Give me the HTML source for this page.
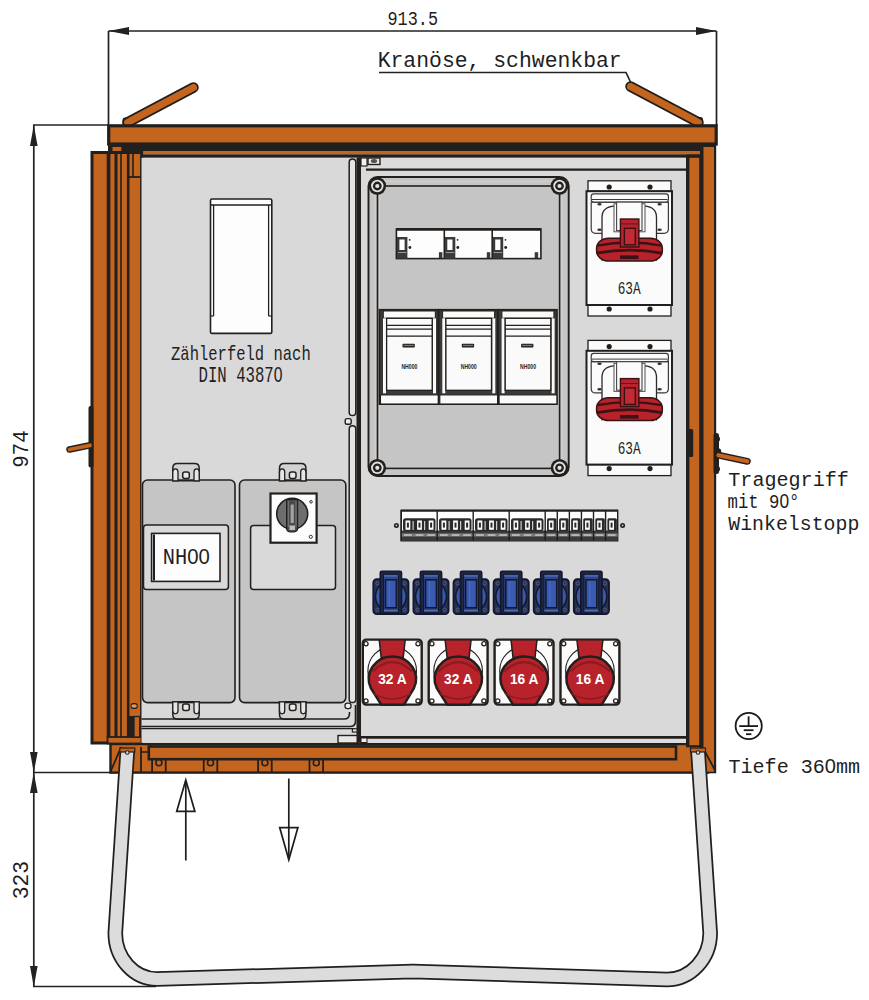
<!DOCTYPE html>
<html><head><meta charset="utf-8"><title>Verteilerschrank</title>
<style>
html,body{margin:0;padding:0;background:#fff;width:869px;height:1000px;overflow:hidden}
svg{display:block}
text{font-family:"Liberation Sans",sans-serif;fill:#1e1e1e}
text[font-family="Liberation Mono"]{font-family:"Liberation Mono",monospace}
tspan[font-family="Liberation Sans"]{font-family:"Liberation Sans",sans-serif}
</style></head><body>
<svg width="869" height="1000" viewBox="0 0 869 1000">
<rect x="0" y="0" width="869" height="1000" fill="#fff"/>
<defs>
<g id="bscrew"><circle r="8.8" fill="#231f1c"/><circle r="6.2" fill="#e2e2e2"/><circle r="4.4" fill="#231f1c"/><circle r="2.1" fill="#e2e2e2"/></g>
<g id="nh"><rect x="0" y="0" width="59" height="94.5" fill="#3a3a3a" stroke="#231f1c" stroke-width="1.6"/><rect x="3.9" y="1.3" width="52" height="7.2" fill="#fafafa" stroke="#231f1c" stroke-width="1"/><rect x="3.6" y="8.6" width="3" height="75" fill="#fafafa"/><rect x="53.6" y="8.6" width="3" height="75" fill="#fafafa"/><rect x="7.2" y="8.6" width="45.6" height="72" fill="#fafafa" stroke="#231f1c" stroke-width="1.3"/><line x1="7.2" y1="15.6" x2="52.8" y2="15.6" stroke="#231f1c" stroke-width="1.2"/><line x1="7.2" y1="19.5" x2="52.8" y2="19.5" stroke="#231f1c" stroke-width="1.2"/><line x1="7.2" y1="26.4" x2="52.8" y2="26.4" stroke="#231f1c" stroke-width="1.2"/><rect x="23.1" y="34.1" width="12.3" height="3.7" fill="#231f1c" rx="0.8"/><rect x="24.2" y="35.1" width="10.1" height="1.3" fill="#777"/><text x="30" y="59" font-size="7.2" font-weight="bold" text-anchor="middle" textLength="16" lengthAdjust="spacingAndGlyphs">NH000</text><rect x="1.1" y="85.2" width="57.8" height="9.1" fill="#fafafa" stroke="#231f1c" stroke-width="1.1"/></g>
<g id="s63"><rect x="1.5" y="0" width="83" height="10.4" fill="#fbfbfb" stroke="#231f1c" stroke-width="1.3"/><rect x="1.5" y="124.2" width="83" height="11" fill="#fbfbfb" stroke="#231f1c" stroke-width="1.3"/><rect x="0" y="10.4" width="85.5" height="113.8" fill="#fbfbfb" stroke="#231f1c" stroke-width="2"/><circle cx="22.7" cy="6.2" r="2.6" fill="#231f1c"/><circle cx="63.5" cy="6.2" r="2.6" fill="#231f1c"/><circle cx="22.7" cy="128.2" r="2.6" fill="#231f1c"/><circle cx="63.5" cy="128.2" r="2.6" fill="#231f1c"/><path d="M4.7 21.3 V48 Q4.7 52.5 9.2 52.5 H77.4 Q81.9 52.5 81.9 48 V21.3 Z" fill="#fbfbfb" stroke="#3a3a3a" stroke-width="1.2"/><rect x="4.7" y="13" width="77.2" height="8.3" rx="2.5" fill="#fbfbfb" stroke="#3a3a3a" stroke-width="1.2"/><line x1="5.5" y1="18.7" x2="81" y2="18.7" stroke="#3a3a3a" stroke-width="1"/><ellipse cx="13" cy="23.4" rx="2.2" ry="1.3" fill="#333"/><ellipse cx="73.1" cy="23.4" rx="2.2" ry="1.3" fill="#333"/><ellipse cx="13" cy="48.9" rx="2.2" ry="1.3" fill="#333"/><ellipse cx="73.1" cy="48.9" rx="2.2" ry="1.3" fill="#333"/><path d="M15.5 80 V37 Q15.5 26 28 25.4 H58 Q70 26 70 37 V80" fill="#fbfbfb" stroke="#2a2a2a" stroke-width="1.3"/><rect x="27.5" y="23" width="31" height="28" fill="#fbfbfb" stroke="#555" stroke-width="1"/><rect x="30.1" y="21.3" width="25.4" height="28.5" fill="#fbfbfb" stroke="#444" stroke-width="1.1"/><rect x="10.1" y="57.4" width="65.7" height="22.8" rx="12" ry="10" fill="#b8232b" stroke="#3a1214" stroke-width="1.5"/><path d="M11 64.8 Q42.9 58.6 75 64.8" fill="none" stroke="#3b1215" stroke-width="2.3"/><path d="M10.4 72.3 Q42.9 66.3 75.5 72.3" fill="none" stroke="#3b1215" stroke-width="2.8"/><rect x="33.5" y="74.6" width="18.5" height="3.6" fill="#3b1215"/><rect x="33.9" y="38.2" width="18.5" height="28" fill="#b8232b" stroke="#3a1214" stroke-width="1.4"/><line x1="33.9" y1="43.1" x2="52.4" y2="43.1" stroke="#5a1a1e" stroke-width="1"/><rect x="37.9" y="47.5" width="10.9" height="16.5" fill="#c42a36" stroke="#3a1214" stroke-width="1.4"/><text x="42.7" y="113.7" font-family="Liberation Mono" font-size="18" text-anchor="middle" textLength="23" lengthAdjust="spacingAndGlyphs">63A</text></g>
<g id="bsock"><rect x="-17.6" y="0" width="35.2" height="34.9" rx="3.5" fill="#243058" stroke="#12172a" stroke-width="1.8"/><circle cx="0" cy="17.4" r="15.4" fill="#3a57aa" stroke="#12172a" stroke-width="1.5"/><circle cx="-13.5" cy="4.2" r="1.6" fill="none" stroke="#56607e" stroke-width="0.9"/><circle cx="13.5" cy="4.2" r="1.6" fill="none" stroke="#56607e" stroke-width="0.9"/><circle cx="-13.5" cy="30.5" r="1.6" fill="none" stroke="#56607e" stroke-width="0.9"/><circle cx="13.5" cy="30.5" r="1.6" fill="none" stroke="#56607e" stroke-width="0.9"/><rect x="-10.6" y="-8" width="21.2" height="42.6" rx="1.5" fill="#1f2746" stroke="#12172a" stroke-width="1.6"/><rect x="-7.4" y="-5" width="14.8" height="38" fill="#2f4890" stroke="#12172a" stroke-width="1"/><line x1="-7" y1="-3.3" x2="7" y2="-3.3" stroke="#5a74b8" stroke-width="1.2"/><line x1="-7" y1="31.6" x2="7" y2="31.6" stroke="#5a74b8" stroke-width="1.2"/><rect x="-5.4" y="0.6" width="10.8" height="28" fill="#3a5ab2" stroke="#12172a" stroke-width="1.5"/><line x1="-1.5" y1="2" x2="-1.5" y2="27" stroke="#4a6ac0" stroke-width="1.2"/></g>
<g id="cee"><rect x="1.2" y="1.2" width="58.9" height="65" rx="3.5" fill="#fbfbfb" stroke="#231f1c" stroke-width="2.4"/><circle cx="4.4" cy="5.3" r="2.1" fill="#fff" stroke="#231f1c" stroke-width="1.3"/><circle cx="56.4" cy="5.3" r="2.1" fill="#fff" stroke="#231f1c" stroke-width="1.3"/><circle cx="4.4" cy="62.5" r="2.1" fill="#fff" stroke="#231f1c" stroke-width="1.3"/><circle cx="56.4" cy="62.5" r="2.1" fill="#fff" stroke="#231f1c" stroke-width="1.3"/><circle cx="30.6" cy="32.5" r="24.3" fill="none" stroke="#231f1c" stroke-width="1.1"/><path d="M17.6 1.4 H43.6 L41.6 19 H19.6 Z" fill="#b8232b" stroke="#231f1c" stroke-width="1.5"/><path d="M19.8 66.4 L9.4 50 A23.6 22.5 0 1 1 52.2 50 L42.3 66.4 Z" fill="#b8232b" stroke="#231f1c" stroke-width="2.5" stroke-linejoin="round"/><path d="M11 33 Q30.8 14.5 50.6 33" fill="none" stroke="#8c1b20" stroke-width="2.2"/><path d="M11.5 55 Q30.8 66 50 55" fill="none" stroke="#8c1b20" stroke-width="1.5"/></g>
</defs>
<g stroke="#222" stroke-width="1.7" fill="none">
<line x1="108.5" y1="31" x2="716.5" y2="31" stroke="#222" stroke-width="1.7" />
<line x1="108.5" y1="31" x2="108.5" y2="126" stroke="#222" stroke-width="1.7" />
<line x1="716.5" y1="31" x2="716.5" y2="126" stroke="#222" stroke-width="1.7" />
<line x1="33.8" y1="125" x2="33.8" y2="987" stroke="#222" stroke-width="1.7" />
<line x1="33" y1="125" x2="109" y2="125" stroke="#222" stroke-width="1.7" />
<line x1="33" y1="772.5" x2="116" y2="772.5" stroke="#222" stroke-width="1.7" />
<line x1="33" y1="986.5" x2="156" y2="986.5" stroke="#222" stroke-width="1.7" />
</g>
<g fill="#222">
<polygon points="108.5,31 129,27 129,35"/>
<polygon points="716.5,31 696,27 696,35"/>
<polygon points="33.8,125 30,146 37.6,146"/>
<polygon points="33.8,772.5 30,752 37.6,752"/>
<polygon points="33.8,772.5 30,793 37.6,793"/>
<polygon points="33.8,987 30,966 37.6,966"/>
</g>
<text font-family="Liberation Mono" x="387.5" y="25" font-size="20.5" textLength="50.5" lengthAdjust="spacingAndGlyphs">913.5</text>
<text font-family="Liberation Mono" x="377.7" y="67.3" font-size="21.5" textLength="244" lengthAdjust="spacingAndGlyphs">Kranöse, schwenkbar</text>
<polyline points="379,72.5 626,72.5 631,83" fill="none" stroke="#222" stroke-width="1.7"/>
<text font-family="Liberation Mono" transform="translate(27.8,467.8) rotate(-90)" font-size="22" textLength="37.5" lengthAdjust="spacingAndGlyphs">974</text>
<text font-family="Liberation Mono" transform="translate(28.4,899.3) rotate(-90)" font-size="22.5" textLength="38.5" lengthAdjust="spacingAndGlyphs">323</text>
<g stroke-linecap="round">
<line x1="127.5" y1="122.5" x2="193.5" y2="87.5" stroke="#231f1c" stroke-width="10.5" />
<line x1="127.5" y1="122.5" x2="193.5" y2="87.5" stroke="#c4651f" stroke-width="6.8" />
<line x1="630.5" y1="86.5" x2="698.5" y2="122.5" stroke="#231f1c" stroke-width="10.5" />
<line x1="630.5" y1="86.5" x2="698.5" y2="122.5" stroke="#c4651f" stroke-width="6.8" />
</g>
<rect x="122.5" y="117.5" width="7" height="8" rx="2.5" fill="#231f1c"/>
<rect x="696" y="117" width="7" height="9" rx="2.5" fill="#231f1c"/>
<line x1="127.5" y1="122.5" x2="193.5" y2="87.5" stroke="#c4651f" stroke-width="6.8" stroke-linecap="round"/>
<line x1="630.5" y1="86.5" x2="698.5" y2="122.5" stroke="#c4651f" stroke-width="6.8" stroke-linecap="round"/>
<rect x="108.7" y="125.8" width="607.5" height="18.2" fill="#c4651f" stroke="#231f1c" stroke-width="3.2" />
<rect x="108" y="144" width="595" height="7" fill="#231f1c" />
<rect x="112.5" y="147" width="8.8" height="5" fill="#c4651f" />
<rect x="142" y="151" width="558" height="3.3" fill="#c4651f" />
<rect x="142" y="154.3" width="544.5" height="3.5" fill="#231f1c" />
<rect x="110.5" y="744" width="597.5" height="28.6" fill="#c4651f" stroke="#231f1c" stroke-width="2.4" />
<rect x="148.8" y="746.5" width="527.2" height="12.7" fill="#c4651f" stroke="#231f1c" stroke-width="2.6" />
<rect x="686" y="144" width="30" height="603.3" fill="#231f1c" />
<rect x="699.5" y="144" width="16.7" height="629.3" fill="#231f1c" />
<rect x="689.4" y="157.8" width="9.8" height="587.4" fill="#c4651f" />
<rect x="703.5" y="147" width="10.5" height="624.7" fill="#c4651f" />
<rect x="686" y="151" width="14" height="3.3" fill="#c4651f" />
<line x1="141" y1="747" x2="141" y2="772" stroke="#231f1c" stroke-width="1.8" />
<line x1="141" y1="752" x2="148.8" y2="752" stroke="#231f1c" stroke-width="1.5" />
<line x1="152.1" y1="759" x2="152.1" y2="772" stroke="#231f1c" stroke-width="1.8" />
<line x1="165.70000000000002" y1="759" x2="165.70000000000002" y2="772" stroke="#231f1c" stroke-width="1.8" />
<circle cx="158.9" cy="762.8" r="3" fill="#c4651f" stroke="#231f1c" stroke-width="1.6"/>
<line x1="203.7" y1="759" x2="203.7" y2="772" stroke="#231f1c" stroke-width="1.8" />
<line x1="217.3" y1="759" x2="217.3" y2="772" stroke="#231f1c" stroke-width="1.8" />
<circle cx="210.5" cy="762.8" r="3" fill="#c4651f" stroke="#231f1c" stroke-width="1.6"/>
<line x1="258.09999999999997" y1="759" x2="258.09999999999997" y2="772" stroke="#231f1c" stroke-width="1.8" />
<line x1="271.7" y1="759" x2="271.7" y2="772" stroke="#231f1c" stroke-width="1.8" />
<circle cx="264.9" cy="762.8" r="3" fill="#c4651f" stroke="#231f1c" stroke-width="1.6"/>
<line x1="309.5" y1="759" x2="309.5" y2="772" stroke="#231f1c" stroke-width="1.8" />
<line x1="323.1" y1="759" x2="323.1" y2="772" stroke="#231f1c" stroke-width="1.8" />
<circle cx="316.3" cy="762.8" r="3" fill="#c4651f" stroke="#231f1c" stroke-width="1.6"/>
<line x1="110.6" y1="771.5" x2="121.2" y2="747" stroke="#231f1c" stroke-width="1.8" />
<line x1="703.2" y1="748.3" x2="714.6" y2="769.5" stroke="#231f1c" stroke-width="1.8" />
<path d="M127.3 751 L115.3 933 C115.3 958.4 134 979 157 979 L413 971.5 L667 979.5 C690.8 979.5 710.2 958.4 710.2 933 L698 751" fill="none" stroke="#231f1c" stroke-width="15.5" stroke-linejoin="round"/>
<path d="M127.3 751 L115.3 933 C115.3 958.4 134 979 157 979 L413 971.5 L667 979.5 C690.8 979.5 710.2 958.4 710.2 933 L698 751" fill="none" stroke="#dcdcdc" stroke-width="12" stroke-linejoin="round"/>
<rect x="119.8" y="748" width="15" height="4" fill="#c4651f" stroke="#231f1c" stroke-width="1.2"/>
<circle cx="127.3" cy="752.5" r="1.8" fill="#ddd" stroke="#231f1c" stroke-width="1.1"/>
<rect x="690.5" y="748" width="15" height="4" fill="#c4651f" stroke="#231f1c" stroke-width="1.2"/>
<circle cx="698" cy="752.5" r="1.8" fill="#ddd" stroke="#231f1c" stroke-width="1.1"/>
<rect x="92" y="152.5" width="49.6" height="590.5" fill="#c4651f" stroke="#231f1c" stroke-width="3" />
<line x1="108.55" y1="153" x2="108.55" y2="737.5" stroke="#231f1c" stroke-width="3.7" />
<line x1="116" y1="153" x2="116" y2="737.5" stroke="#231f1c" stroke-width="3" />
<line x1="121" y1="153" x2="121" y2="737.5" stroke="#231f1c" stroke-width="1.6" />
<line x1="128.2" y1="153" x2="128.2" y2="737.5" stroke="#231f1c" stroke-width="2.6" />
<line x1="133" y1="153" x2="133" y2="177" stroke="#231f1c" stroke-width="1.6" />
<line x1="128" y1="177" x2="141" y2="177" stroke="#231f1c" stroke-width="1.8" />
<rect x="107.5" y="737" width="34.0" height="6.5" fill="#c4651f" stroke="#231f1c" stroke-width="1.8" />
<rect x="128.6" y="716" width="5.4" height="21" fill="#231f1c" />
<rect x="134" y="716.5" width="5.7" height="20.5" fill="#c4651f" stroke="#231f1c" stroke-width="1.3" />
<rect x="131.1" y="703.5" width="6" height="5" rx="2.2" fill="#c4651f" stroke="#231f1c" stroke-width="1.2"/>
<line x1="131.5" y1="706" x2="136.7" y2="706" stroke="#eee" stroke-width="0.8" />
<rect x="88.5" y="406" width="5" height="61.5" rx="2" fill="#231f1c"/>
<g stroke-linecap="round">
<line x1="69.5" y1="449.5" x2="90" y2="445.3" stroke="#231f1c" stroke-width="6.5" />
<line x1="69.5" y1="449.5" x2="90" y2="445.3" stroke="#c4651f" stroke-width="3.8" />
</g>
<rect x="713.5" y="433" width="5.5" height="41" rx="2.5" fill="#231f1c"/>
<circle cx="717" cy="439" r="3" fill="#231f1c"/>
<circle cx="718" cy="451.5" r="3.2" fill="#231f1c"/>
<circle cx="717" cy="469" r="3" fill="#231f1c"/>
<g stroke-linecap="round">
<line x1="718.5" y1="455.2" x2="747.3" y2="461.3" stroke="#231f1c" stroke-width="7" />
<line x1="718.5" y1="455.2" x2="747.3" y2="461.3" stroke="#c4651f" stroke-width="4.2" />
</g>
<rect x="684.8" y="413" width="3" height="49" rx="1.5" fill="#231f1c"/>
<rect x="686" y="429" width="7.2" height="28" rx="1.5" fill="#231f1c"/>
<rect x="141.5" y="157.8" width="215.5" height="585.0" fill="#d9d9d9" />
<rect x="210.5" y="199" width="61.3" height="134.4" fill="#fdfdfd" stroke="#231f1c" stroke-width="1.6" rx="1.5" />
<line x1="210.5" y1="205" x2="271.8" y2="205" stroke="#231f1c" stroke-width="1.3" />
<line x1="213.6" y1="205" x2="213.6" y2="316" stroke="#231f1c" stroke-width="1.3" />
<line x1="268.6" y1="205" x2="268.6" y2="316" stroke="#231f1c" stroke-width="1.3" />
<line x1="210.5" y1="316" x2="213.6" y2="316" stroke="#231f1c" stroke-width="1.2" />
<line x1="268.6" y1="316" x2="271.8" y2="316" stroke="#231f1c" stroke-width="1.2" />
<text font-family="Liberation Mono" x="171" y="359.5" font-size="21" textLength="139.7" lengthAdjust="spacingAndGlyphs">Zählerfeld nach</text>
<text font-family="Liberation Mono" x="198.5" y="381.8" font-size="22" textLength="84" lengthAdjust="spacingAndGlyphs">DIN 4387<tspan font-family='Liberation Sans'>0</tspan></text>
<rect x="142.5" y="480" width="92.5" height="222.6" fill="#c5c5c5" stroke="#231f1c" stroke-width="1.6" rx="5" />
<rect x="239.5" y="480" width="106.3" height="222.6" fill="#c5c5c5" stroke="#231f1c" stroke-width="1.6" rx="5" />
<g transform="translate(186,480) scale(1,1)"><path d="M-13.2 0.8 V-12 Q-13.2 -16.6 -8.6 -16.6 H8.6 Q13.2 -16.6 13.2 -12 V0.8 Z" fill="#d2d2d2" stroke="#231f1c" stroke-width="1.5"/><path d="M-13.2 0.8 V-8 Q-13.2 -11.2 -10.6 -11.2 Q-8 -11.2 -8 -8 V0.8 Z" fill="#e6e6e6" stroke="#231f1c" stroke-width="1.3"/><path d="M13.2 0.8 V-8 Q13.2 -11.2 10.6 -11.2 Q8 -11.2 8 -8 V0.8 Z" fill="#e6e6e6" stroke="#231f1c" stroke-width="1.3"/><line x1="-8" y1="0" x2="8" y2="0" stroke="#231f1c" stroke-width="1.4"/><rect x="-3.3" y="-8" width="6.6" height="6.6" rx="2" fill="#e8e8e8" stroke="#231f1c" stroke-width="1.5"/></g>
<g transform="translate(186,702.6) scale(1,-1)"><path d="M-13.2 0.8 V-12 Q-13.2 -16.6 -8.6 -16.6 H8.6 Q13.2 -16.6 13.2 -12 V0.8 Z" fill="#d2d2d2" stroke="#231f1c" stroke-width="1.5"/><path d="M-13.2 0.8 V-8 Q-13.2 -11.2 -10.6 -11.2 Q-8 -11.2 -8 -8 V0.8 Z" fill="#e6e6e6" stroke="#231f1c" stroke-width="1.3"/><path d="M13.2 0.8 V-8 Q13.2 -11.2 10.6 -11.2 Q8 -11.2 8 -8 V0.8 Z" fill="#e6e6e6" stroke="#231f1c" stroke-width="1.3"/><line x1="-8" y1="0" x2="8" y2="0" stroke="#231f1c" stroke-width="1.4"/><rect x="-3.3" y="-8" width="6.6" height="6.6" rx="2" fill="#e8e8e8" stroke="#231f1c" stroke-width="1.5"/></g>
<g transform="translate(292.7,480) scale(1,1)"><path d="M-13.2 0.8 V-12 Q-13.2 -16.6 -8.6 -16.6 H8.6 Q13.2 -16.6 13.2 -12 V0.8 Z" fill="#d2d2d2" stroke="#231f1c" stroke-width="1.5"/><path d="M-13.2 0.8 V-8 Q-13.2 -11.2 -10.6 -11.2 Q-8 -11.2 -8 -8 V0.8 Z" fill="#e6e6e6" stroke="#231f1c" stroke-width="1.3"/><path d="M13.2 0.8 V-8 Q13.2 -11.2 10.6 -11.2 Q8 -11.2 8 -8 V0.8 Z" fill="#e6e6e6" stroke="#231f1c" stroke-width="1.3"/><line x1="-8" y1="0" x2="8" y2="0" stroke="#231f1c" stroke-width="1.4"/><rect x="-3.3" y="-8" width="6.6" height="6.6" rx="2" fill="#e8e8e8" stroke="#231f1c" stroke-width="1.5"/></g>
<g transform="translate(292.7,702.6) scale(1,-1)"><path d="M-13.2 0.8 V-12 Q-13.2 -16.6 -8.6 -16.6 H8.6 Q13.2 -16.6 13.2 -12 V0.8 Z" fill="#d2d2d2" stroke="#231f1c" stroke-width="1.5"/><path d="M-13.2 0.8 V-8 Q-13.2 -11.2 -10.6 -11.2 Q-8 -11.2 -8 -8 V0.8 Z" fill="#e6e6e6" stroke="#231f1c" stroke-width="1.3"/><path d="M13.2 0.8 V-8 Q13.2 -11.2 10.6 -11.2 Q8 -11.2 8 -8 V0.8 Z" fill="#e6e6e6" stroke="#231f1c" stroke-width="1.3"/><line x1="-8" y1="0" x2="8" y2="0" stroke="#231f1c" stroke-width="1.4"/><rect x="-3.3" y="-8" width="6.6" height="6.6" rx="2" fill="#e8e8e8" stroke="#231f1c" stroke-width="1.5"/></g>
<rect x="143.5" y="525" width="84.9" height="64.5" fill="#d9d9d9" stroke="#231f1c" stroke-width="1.5" rx="3" />
<rect x="151.6" y="533.4" width="68.4" height="48.0" fill="#fdfdfd" stroke="#231f1c" stroke-width="1.6" />
<line x1="154" y1="534.5" x2="154" y2="580.5" stroke="#231f1c" stroke-width="2" />
<text font-family="Liberation Mono" x="186.3" y="563.6" font-size="22.5" textLength="47" lengthAdjust="spacingAndGlyphs" text-anchor="middle">NH<tspan font-family='Liberation Sans'>0</tspan><tspan font-family='Liberation Sans'>0</tspan></text>
<rect x="250.6" y="525.5" width="84.9" height="64.0" fill="#d9d9d9" stroke="#231f1c" stroke-width="1.5" rx="3" />
<rect x="270.5" y="493.5" width="46.1" height="49.2" fill="#fdfdfd" stroke="#231f1c" stroke-width="2.2" />
<circle cx="292.2" cy="513.8" r="15.5" fill="#6e6e6e" stroke="#231f1c" stroke-width="1.6"/>
<path d="M286.6 499.5 H297.6 V528 Q297.6 531.8 294 531.8 H290 Q286.6 531.8 286.6 528 Z" fill="#4a4a4a" stroke="#231f1c" stroke-width="1.2"/>
<rect x="290.6" y="504.5" width="3.2" height="18.5" fill="#a2a2a2" />
<line x1="288.3" y1="501" x2="288.3" y2="527" stroke="#888" stroke-width="0.8" />
<line x1="296" y1="501" x2="296" y2="527" stroke="#888" stroke-width="0.8" />
<rect x="289.5" y="525.5" width="5.5" height="4.5" fill="#bdbdbd" />
<circle cx="311" cy="501.8" r="1.3" fill="none" stroke="#231f1c" stroke-width="0.9"/>
<circle cx="310.8" cy="536.8" r="1.6" fill="none" stroke="#231f1c" stroke-width="0.9"/>
<path d="M141.5 719 H344 Q349.5 719 349.5 713.5 V712" fill="none" stroke="#231f1c" stroke-width="1.6"/>
<path d="M141.5 726.5 H350 Q355.5 726.5 355.5 721 V705" fill="none" stroke="#231f1c" stroke-width="1.6"/>
<line x1="141.5" y1="728.6" x2="355" y2="728.6" stroke="#231f1c" stroke-width="1.4" />
<rect x="352.4" y="728.8" width="5.4" height="3.2" fill="#eee" stroke="#231f1c" stroke-width="1.2" />
<rect x="338" y="735.5" width="20" height="7.5" fill="#e6e6e6" stroke="#231f1c" stroke-width="1.4" />
<rect x="345" y="703.2" width="6" height="5.4" rx="2.4" fill="#eee" stroke="#231f1c" stroke-width="1.3"/>
<rect x="349.2" y="159" width="6.6" height="256.5" rx="3.3" fill="#e4e4e4" stroke="#231f1c" stroke-width="1.5"/>
<rect x="349.2" y="425.8" width="6.6" height="276.7" rx="3.3" fill="#e4e4e4" stroke="#231f1c" stroke-width="1.5"/>
<rect x="345.2" y="418.6" width="6" height="5.6" rx="1.8" fill="#eee" stroke="#231f1c" stroke-width="1.4"/>
<rect x="356.5" y="157.6" width="4.5" height="585.2" fill="#231f1c" />
<rect x="361" y="157.8" width="325" height="585.0" fill="#dcdcdc" />
<rect x="361" y="170" width="325" height="567.5" fill="#d9d9d9" />
<line x1="366" y1="169.6" x2="686" y2="169.6" stroke="#231f1c" stroke-width="2.4" />
<line x1="361" y1="737.4" x2="686" y2="737.4" stroke="#231f1c" stroke-width="2.7" />
<rect x="361" y="158" width="6" height="8" fill="#f2f2f2" stroke="#231f1c" stroke-width="1.2" />
<rect x="368" y="158" width="12" height="6.5" fill="#e8e8e8" stroke="#231f1c" stroke-width="1.4" />
<ellipse cx="374" cy="161" rx="3.2" ry="2" fill="#555"/>
<rect x="361" y="738" width="6" height="4.5" fill="#eee" stroke="#231f1c" stroke-width="1" />
<rect x="368.5" y="177" width="200.2" height="299" fill="#c5c5c5" stroke="#231f1c" stroke-width="1.9" rx="9" />
<rect x="377.5" y="186" width="182.1" height="282.4" fill="#c5c5c5" stroke="#231f1c" stroke-width="1.6" />
<line x1="370" y1="181.2" x2="567" y2="181.2" stroke="#d6d6d6" stroke-width="0.8" />
<line x1="375.2" y1="195" x2="375.2" y2="460" stroke="#d4d4d4" stroke-width="1" />
<line x1="379.6" y1="195" x2="379.6" y2="460" stroke="#d0d0d0" stroke-width="1" />
<line x1="561.8" y1="195" x2="561.8" y2="460" stroke="#d4d4d4" stroke-width="1" />
<use href="#bscrew" x="377.3" y="186"/>
<use href="#bscrew" x="559.5" y="186"/>
<use href="#bscrew" x="377.3" y="467.8"/>
<use href="#bscrew" x="559.5" y="467.8"/>
<rect x="396.4" y="229" width="144.5" height="29.6" fill="#fdfdfd" stroke="#231f1c" stroke-width="1.6" />
<line x1="396.4" y1="229.4" x2="540.9" y2="229.4" stroke="#231f1c" stroke-width="2.6" />
<rect x="397.0" y="237" width="10.4" height="21.6" fill="#3a3a3a" />
<rect x="399.4" y="239.5" width="5.2" height="10.5" fill="#fdfdfd" />
<rect x="397.9" y="252" width="8.5" height="1" fill="#999" />
<circle cx="409.7" cy="239.8" r="0.9" fill="#231f1c"/>
<circle cx="409.9" cy="247.5" r="1.4" fill="#231f1c"/>
<rect x="438.9" y="252.2" width="3.5" height="5.8" fill="#3a3a3a" />
<line x1="444.3" y1="229" x2="444.3" y2="258.6" stroke="#231f1c" stroke-width="1.6" />
<rect x="444.9" y="237" width="10.4" height="21.6" fill="#3a3a3a" />
<rect x="447.3" y="239.5" width="5.2" height="10.5" fill="#fdfdfd" />
<rect x="445.8" y="252" width="8.5" height="1" fill="#999" />
<circle cx="457.6" cy="239.8" r="0.9" fill="#231f1c"/>
<circle cx="457.8" cy="247.5" r="1.4" fill="#231f1c"/>
<rect x="486.8" y="252.2" width="3.5" height="5.8" fill="#3a3a3a" />
<line x1="492.2" y1="229" x2="492.2" y2="258.6" stroke="#231f1c" stroke-width="1.6" />
<rect x="492.8" y="237" width="10.4" height="21.6" fill="#3a3a3a" />
<rect x="495.2" y="239.5" width="5.2" height="10.5" fill="#fdfdfd" />
<rect x="493.7" y="252" width="8.5" height="1" fill="#999" />
<circle cx="505.5" cy="239.8" r="0.9" fill="#231f1c"/>
<circle cx="505.7" cy="247.5" r="1.4" fill="#231f1c"/>
<rect x="534.7" y="252.2" width="3.5" height="5.8" fill="#3a3a3a" />
<use href="#nh" x="379.4" y="309.7"/>
<use href="#nh" x="438.7" y="309.7"/>
<use href="#nh" x="498.0" y="309.7"/>
<use href="#s63" x="586.5" y="180.8"/>
<use href="#s63" x="586.5" y="340.4"/>
<rect x="401.2" y="510.3" width="216.5" height="30.5" fill="#fdfdfd" stroke="#231f1c" stroke-width="1.4" />
<rect x="401.2" y="530.5" width="216.5" height="10.3" fill="#3a3a3a" />
<rect x="401.2" y="533.4" width="216.5" height="3.2" fill="#7a7a7a" />
<line x1="401.2" y1="510.8" x2="617.7" y2="510.8" stroke="#231f1c" stroke-width="2" />
<circle cx="396.4" cy="525.4" r="2.5" fill="#231f1c"/>
<circle cx="396.4" cy="525.4" r="0.9" fill="#ccc"/>
<circle cx="622.6" cy="525.4" r="2.5" fill="#231f1c"/>
<circle cx="622.6" cy="525.4" r="0.9" fill="#ccc"/>
<rect x="403.00" y="518.3" width="32.5" height="13" rx="2.5" fill="#2a2a2a"/>
<rect x="403.70" y="518.3" width="0.01" height="13" rx="1.5" fill="#2a2a2a"/>
<rect x="405.5" y="520.5" width="4.8" height="9.3" fill="#fdfdfd" />
<rect x="406.9" y="522.6" width="2.0" height="5.0" fill="#2a2a2a" />
<rect x="404.0" y="534.5" width="7.8" height="1.1" fill="#e0e0e0" />
<line x1="413.1" y1="521" x2="413.1" y2="530" stroke="#f0f0f0" stroke-width="1" />
<rect x="415.30" y="518.3" width="0.01" height="13" rx="1.5" fill="#2a2a2a"/>
<rect x="417.1" y="520.5" width="4.8" height="9.3" fill="#fdfdfd" />
<rect x="418.5" y="522.6" width="2.0" height="5.0" fill="#2a2a2a" />
<rect x="415.6" y="534.5" width="7.8" height="1.1" fill="#e0e0e0" />
<line x1="424.70000000000005" y1="521" x2="424.70000000000005" y2="530" stroke="#f0f0f0" stroke-width="1" />
<rect x="426.90" y="518.3" width="0.01" height="13" rx="1.5" fill="#2a2a2a"/>
<rect x="428.7" y="520.5" width="4.8" height="9.3" fill="#fdfdfd" />
<rect x="430.1" y="522.6" width="2.0" height="5.0" fill="#2a2a2a" />
<rect x="427.2" y="534.5" width="7.8" height="1.1" fill="#e0e0e0" />
<line x1="401.2" y1="510.3" x2="401.2" y2="540.8" stroke="#231f1c" stroke-width="1.4" />
<rect x="439.00" y="518.3" width="32.5" height="13" rx="2.5" fill="#2a2a2a"/>
<rect x="439.70" y="518.3" width="0.01" height="13" rx="1.5" fill="#2a2a2a"/>
<rect x="441.5" y="520.5" width="4.8" height="9.3" fill="#fdfdfd" />
<rect x="442.9" y="522.6" width="2.0" height="5.0" fill="#2a2a2a" />
<rect x="440.0" y="534.5" width="7.8" height="1.1" fill="#e0e0e0" />
<line x1="449.1" y1="521" x2="449.1" y2="530" stroke="#f0f0f0" stroke-width="1" />
<rect x="451.30" y="518.3" width="0.01" height="13" rx="1.5" fill="#2a2a2a"/>
<rect x="453.1" y="520.5" width="4.8" height="9.3" fill="#fdfdfd" />
<rect x="454.5" y="522.6" width="2.0" height="5.0" fill="#2a2a2a" />
<rect x="451.6" y="534.5" width="7.8" height="1.1" fill="#e0e0e0" />
<line x1="460.70000000000005" y1="521" x2="460.70000000000005" y2="530" stroke="#f0f0f0" stroke-width="1" />
<rect x="462.90" y="518.3" width="0.01" height="13" rx="1.5" fill="#2a2a2a"/>
<rect x="464.7" y="520.5" width="4.8" height="9.3" fill="#fdfdfd" />
<rect x="466.1" y="522.6" width="2.0" height="5.0" fill="#2a2a2a" />
<rect x="463.2" y="534.5" width="7.8" height="1.1" fill="#e0e0e0" />
<line x1="437.2" y1="510.3" x2="437.2" y2="540.8" stroke="#231f1c" stroke-width="1.4" />
<rect x="475.00" y="518.3" width="32.5" height="13" rx="2.5" fill="#2a2a2a"/>
<rect x="475.70" y="518.3" width="0.01" height="13" rx="1.5" fill="#2a2a2a"/>
<rect x="477.5" y="520.5" width="4.8" height="9.3" fill="#fdfdfd" />
<rect x="478.9" y="522.6" width="2.0" height="5.0" fill="#2a2a2a" />
<rect x="476.0" y="534.5" width="7.8" height="1.1" fill="#e0e0e0" />
<line x1="485.1" y1="521" x2="485.1" y2="530" stroke="#f0f0f0" stroke-width="1" />
<rect x="487.30" y="518.3" width="0.01" height="13" rx="1.5" fill="#2a2a2a"/>
<rect x="489.1" y="520.5" width="4.8" height="9.3" fill="#fdfdfd" />
<rect x="490.5" y="522.6" width="2.0" height="5.0" fill="#2a2a2a" />
<rect x="487.6" y="534.5" width="7.8" height="1.1" fill="#e0e0e0" />
<line x1="496.70000000000005" y1="521" x2="496.70000000000005" y2="530" stroke="#f0f0f0" stroke-width="1" />
<rect x="498.90" y="518.3" width="0.01" height="13" rx="1.5" fill="#2a2a2a"/>
<rect x="500.7" y="520.5" width="4.8" height="9.3" fill="#fdfdfd" />
<rect x="502.1" y="522.6" width="2.0" height="5.0" fill="#2a2a2a" />
<rect x="499.2" y="534.5" width="7.8" height="1.1" fill="#e0e0e0" />
<line x1="473.2" y1="510.3" x2="473.2" y2="540.8" stroke="#231f1c" stroke-width="1.4" />
<rect x="511.00" y="518.3" width="32.5" height="13" rx="2.5" fill="#2a2a2a"/>
<rect x="511.70" y="518.3" width="0.01" height="13" rx="1.5" fill="#2a2a2a"/>
<rect x="513.5" y="520.5" width="4.8" height="9.3" fill="#fdfdfd" />
<rect x="514.9" y="522.6" width="2.0" height="5.0" fill="#2a2a2a" />
<rect x="512.0" y="534.5" width="7.8" height="1.1" fill="#e0e0e0" />
<line x1="521.1" y1="521" x2="521.1" y2="530" stroke="#f0f0f0" stroke-width="1" />
<rect x="523.30" y="518.3" width="0.01" height="13" rx="1.5" fill="#2a2a2a"/>
<rect x="525.1" y="520.5" width="4.8" height="9.3" fill="#fdfdfd" />
<rect x="526.5" y="522.6" width="2.0" height="5.0" fill="#2a2a2a" />
<rect x="523.6" y="534.5" width="7.8" height="1.1" fill="#e0e0e0" />
<line x1="532.7" y1="521" x2="532.7" y2="530" stroke="#f0f0f0" stroke-width="1" />
<rect x="534.90" y="518.3" width="0.01" height="13" rx="1.5" fill="#2a2a2a"/>
<rect x="536.7" y="520.5" width="4.8" height="9.3" fill="#fdfdfd" />
<rect x="538.1" y="522.6" width="2.0" height="5.0" fill="#2a2a2a" />
<rect x="535.2" y="534.5" width="7.8" height="1.1" fill="#e0e0e0" />
<line x1="509.2" y1="510.3" x2="509.2" y2="540.8" stroke="#231f1c" stroke-width="1.4" />
<rect x="547.00" y="518.3" width="9.50" height="13" rx="1.5" fill="#2a2a2a"/>
<rect x="548.8" y="520.5" width="4.8" height="9.3" fill="#fdfdfd" />
<rect x="550.2" y="522.6" width="2.0" height="5.0" fill="#2a2a2a" />
<rect x="547.3" y="534.5" width="7.8" height="1.1" fill="#e0e0e0" />
<line x1="545.2" y1="510.3" x2="545.2" y2="540.8" stroke="#231f1c" stroke-width="1.4" />
<rect x="559.08" y="518.3" width="9.50" height="13" rx="1.5" fill="#2a2a2a"/>
<rect x="560.88" y="520.5" width="4.8" height="9.3" fill="#fdfdfd" />
<rect x="562.28" y="522.6" width="2.0" height="5.0" fill="#2a2a2a" />
<rect x="559.38" y="534.5" width="7.8" height="1.1" fill="#e0e0e0" />
<line x1="557.2800000000001" y1="510.3" x2="557.2800000000001" y2="540.8" stroke="#231f1c" stroke-width="1.4" />
<rect x="571.16" y="518.3" width="9.50" height="13" rx="1.5" fill="#2a2a2a"/>
<rect x="572.96" y="520.5" width="4.8" height="9.3" fill="#fdfdfd" />
<rect x="574.36" y="522.6" width="2.0" height="5.0" fill="#2a2a2a" />
<rect x="571.46" y="534.5" width="7.8" height="1.1" fill="#e0e0e0" />
<line x1="569.36" y1="510.3" x2="569.36" y2="540.8" stroke="#231f1c" stroke-width="1.4" />
<rect x="583.24" y="518.3" width="9.50" height="13" rx="1.5" fill="#2a2a2a"/>
<rect x="585.04" y="520.5" width="4.8" height="9.3" fill="#fdfdfd" />
<rect x="586.44" y="522.6" width="2.0" height="5.0" fill="#2a2a2a" />
<rect x="583.54" y="534.5" width="7.8" height="1.1" fill="#e0e0e0" />
<line x1="581.44" y1="510.3" x2="581.44" y2="540.8" stroke="#231f1c" stroke-width="1.4" />
<rect x="595.32" y="518.3" width="9.50" height="13" rx="1.5" fill="#2a2a2a"/>
<rect x="597.12" y="520.5" width="4.8" height="9.3" fill="#fdfdfd" />
<rect x="598.52" y="522.6" width="2.0" height="5.0" fill="#2a2a2a" />
<rect x="595.62" y="534.5" width="7.8" height="1.1" fill="#e0e0e0" />
<line x1="593.5200000000001" y1="510.3" x2="593.5200000000001" y2="540.8" stroke="#231f1c" stroke-width="1.4" />
<rect x="607.40" y="518.3" width="9.50" height="13" rx="1.5" fill="#2a2a2a"/>
<rect x="609.2" y="520.5" width="4.8" height="9.3" fill="#fdfdfd" />
<rect x="610.6" y="522.6" width="2.0" height="5.0" fill="#2a2a2a" />
<rect x="607.7" y="534.5" width="7.8" height="1.1" fill="#e0e0e0" />
<line x1="605.6" y1="510.3" x2="605.6" y2="540.8" stroke="#231f1c" stroke-width="1.4" />
<use href="#bsock" x="390.9" y="579.2"/>
<use href="#bsock" x="431.0" y="579.2"/>
<use href="#bsock" x="471.1" y="579.2"/>
<use href="#bsock" x="511.2" y="579.2"/>
<use href="#bsock" x="551.3" y="579.2"/>
<use href="#bsock" x="591.4" y="579.2"/>
<use href="#cee" x="361.6" y="638.4"/>
<text x="392.40000000000003" y="684" font-size="14.5" textLength="28.5" lengthAdjust="spacingAndGlyphs" text-anchor="middle" style="fill:#fff" font-weight="bold">32 A</text>
<use href="#cee" x="427.5" y="638.4"/>
<text x="458.3" y="684" font-size="14.5" textLength="28.5" lengthAdjust="spacingAndGlyphs" text-anchor="middle" style="fill:#fff" font-weight="bold">32 A</text>
<use href="#cee" x="493.4" y="638.4"/>
<text x="524.2" y="684" font-size="14.5" textLength="28.5" lengthAdjust="spacingAndGlyphs" text-anchor="middle" style="fill:#fff" font-weight="bold">16 A</text>
<use href="#cee" x="559.3" y="638.4"/>
<text x="590.1" y="684" font-size="14.5" textLength="28.5" lengthAdjust="spacingAndGlyphs" text-anchor="middle" style="fill:#fff" font-weight="bold">16 A</text>
<text font-family="Liberation Mono" x="728.3" y="485.6" font-size="20.5" textLength="120.5" lengthAdjust="spacingAndGlyphs">Tragegriff</text>
<text font-family="Liberation Mono" x="727.5" y="507.9" font-size="20.5" textLength="72" lengthAdjust="spacingAndGlyphs">mit 9<tspan font-family='Liberation Sans'>0</tspan>°</text>
<text font-family="Liberation Mono" x="728.3" y="529.8" font-size="20.5" textLength="131" lengthAdjust="spacingAndGlyphs">Winkelstopp</text>
<circle cx="748.7" cy="726" r="13.1" fill="none" stroke="#1a1a1a" stroke-width="1.8"/>
<line x1="748.6" y1="716.3" x2="748.6" y2="726" stroke="#1a1a1a" stroke-width="1.8" />
<line x1="739.2" y1="726.1" x2="758" y2="726.1" stroke="#1a1a1a" stroke-width="1.8" />
<line x1="743.7" y1="730.2" x2="753.5" y2="730.2" stroke="#1a1a1a" stroke-width="1.8" />
<line x1="746" y1="734.2" x2="751.4" y2="734.2" stroke="#1a1a1a" stroke-width="1.8" />
<text font-family="Liberation Mono" x="728.5" y="773.2" font-size="20" textLength="131.5" lengthAdjust="spacingAndGlyphs">Tiefe 36<tspan font-family='Liberation Sans'>0</tspan>mm</text>
<polygon points="185.8,780 176.7,811.4 194.9,811.4" fill="#fff" stroke="#1e1e1e" stroke-width="1.7" stroke-linejoin="miter"/>
<line x1="185.8" y1="781" x2="185.8" y2="860.5" stroke="#1e1e1e" stroke-width="1.7" />
<polygon points="288.8,859.8 279.7,827.6 297.9,827.6" fill="#fff" stroke="#1e1e1e" stroke-width="1.7"/>
<line x1="288.8" y1="778.5" x2="288.8" y2="859" stroke="#1e1e1e" stroke-width="1.7" />
</svg>
</body></html>
